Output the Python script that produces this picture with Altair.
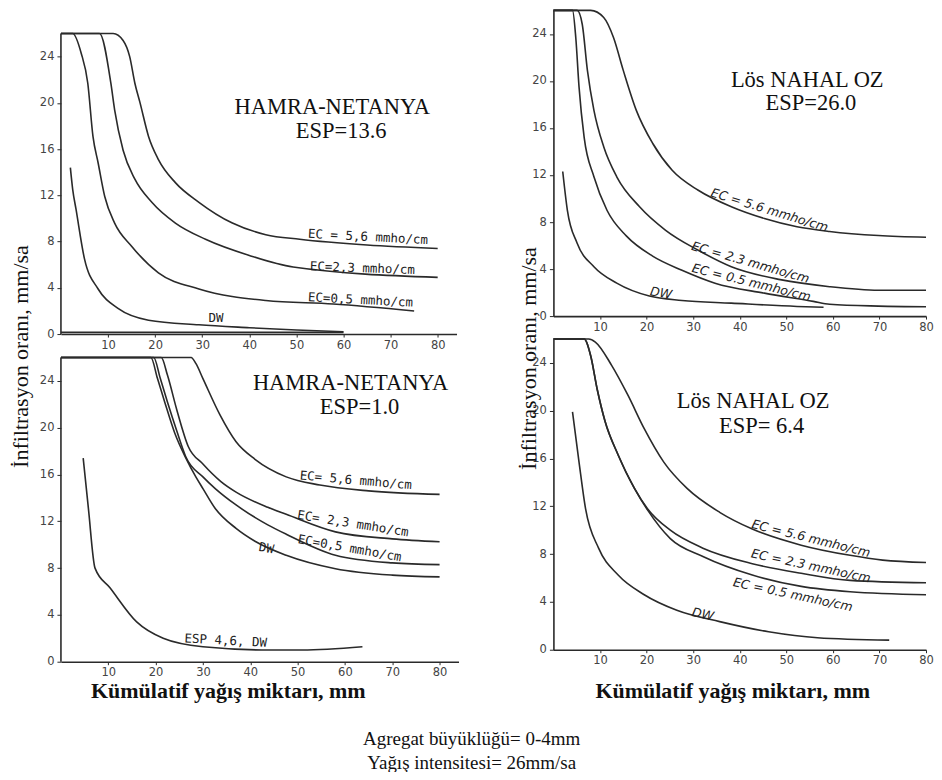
import altair as alt
import pandas as pd

# ---------------- Top-left: HAMRA-NETANYA ESP=13.6 ----------------
tl_ec56_x = [0, 11.1, 13.2, 14.6, 15.7, 16.8, 18.6, 20.7, 24.3, 29.3, 36.4, 43.5, 50.7, 65, 80]
tl_ec56_y = [26, 26, 25.4, 24.0, 21.7, 20.0, 17.1, 15.1, 13.1, 11.4, 9.6, 8.6, 8.2, 7.7, 7.4]
tl_ec23_x = [0, 8.2, 10.6, 11.4, 13.2, 15.7, 19.3, 24.3, 30.7, 40, 49.3, 80]
tl_ec23_y = [26, 26, 21.7, 19.4, 15.9, 13.4, 11.4, 9.6, 8.2, 6.8, 5.8, 4.9]
tl_ec05_x = [0, 2.5, 4.3, 5.7, 6.8, 7.9, 9.3, 11.4, 15, 20.7, 29.3, 43.5, 57.8, 75]
tl_ec05_y = [26, 26, 24.3, 21.7, 17.1, 14.8, 11.9, 9.6, 7.6, 5.3, 3.9, 2.9, 2.6, 2.0]
tl_dw_x = [2.0, 2.5, 3.2, 5.0, 7.9, 12.2, 18.6, 29.3, 40, 50, 60]
tl_dw_y = [14.4, 12.5, 10.8, 6.5, 3.9, 2.2, 1.2, 0.8, 0.55, 0.35, 0.2]
tl_base_x = [0, 60]
tl_base_y = [0.15, 0.15]

# ---------------- Bottom-left: HAMRA-NETANYA ESP=1.0 ----------------
bl_ec56_x = [0, 27.5, 28.5, 30, 33.6, 37, 41, 47.6, 54.7, 65, 80]
bl_ec56_y = [26, 26, 25.5, 24.2, 21.1, 18.8, 17.3, 15.8, 15.1, 14.6, 14.3]
bl_ec23_x = [0, 21.2, 22.5, 24.5, 26.9, 30, 33.8, 37, 43.7, 47.6, 58, 70, 80]
bl_ec23_y = [26, 26, 24.5, 21.5, 18.4, 16.9, 15.4, 14.5, 13.2, 12.6, 11.1, 10.5, 10.25]
bl_ec05_x = [0, 19.6, 21, 22.5, 24.5, 26.4, 30, 32.6, 37, 43.7, 47.6, 58, 70, 80]
bl_ec05_y = [26, 26, 24.2, 22.2, 19.7, 17.5, 15.8, 14.8, 13.4, 11.7, 10.9, 9.1, 8.45, 8.3]
bl_dw_x = [0, 19.0, 20.4, 22, 24, 26.4, 28.5, 30, 32.6, 37, 41, 47.6, 58, 70, 80]
bl_dw_y = [26, 26, 24.2, 22.1, 19.6, 17.4, 15.8, 14.8, 13.1, 11.4, 10.3, 9.1, 7.95, 7.4, 7.25]
bl_esp46_x = [4.7, 5.8, 7.2, 10.4, 16, 21.6, 30, 44.1, 51, 63.7]
bl_esp46_y = [17.4, 13.1, 8.0, 6.3, 3.4, 2.0, 1.28, 1.0, 1.0, 1.28]

# ---------------- Top-right: Lös NAHAL OZ ESP=26.0 ----------------
tr_ec56_x = [0, 8, 10.8, 12.9, 15, 17.8, 21.3, 25.5, 31.1, 38.2, 45.3, 52.3, 59.3, 69.8, 80]
tr_ec56_y = [26, 26, 25.4, 23.7, 20.9, 17.5, 14.7, 12.4, 10.7, 9.3, 8.3, 7.6, 7.2, 6.85, 6.7]
tr_ec23_x = [0, 5.1, 6.2, 7.3, 8.7, 10.8, 13.6, 18.5, 24.1, 31.1, 38.2, 48.7, 59.3, 69.8, 80]
tr_ec23_y = [26, 26, 24.8, 20.9, 17.5, 14.4, 11.85, 9.3, 7.3, 5.6, 4.2, 3.1, 2.5, 2.2, 2.2]
tr_ec05_x = [0, 4.1, 4.8, 5.5, 6.6, 8.7, 11.5, 15.7, 21.3, 27.6, 34.7, 45.3, 55.8, 59.3, 69.8, 80]
tr_ec05_y = [26, 26, 23.7, 19.5, 15.2, 11.85, 9.0, 6.8, 5.1, 3.9, 2.8, 1.95, 1.25, 1.0, 0.85, 0.8]
tr_dw_x = [2.0, 3.0, 5.1, 8.7, 13.6, 20.6, 27.6, 38.2, 52.3, 58]
tr_dw_y = [12.3, 9.0, 6.2, 4.2, 2.8, 1.7, 1.33, 1.1, 0.82, 0.75]

# ---------------- Bottom-right: Lös NAHAL OZ ESP=6.4 ----------------
br_ec56_x = [0, 7.6, 9.0, 12.5, 16.0, 19.5, 23.7, 28.7, 35.7, 42.7, 53.2, 63.7, 70.7, 80]
br_ec56_y = [26, 26, 25.75, 23.8, 21.3, 18.5, 15.7, 13.5, 11.5, 10.1, 8.75, 7.9, 7.5, 7.3]
br_ec23_x = [0, 6.6, 8, 9.4, 11.1, 13.9, 17.4, 20.2, 25.1, 32.1, 42.7, 53.2, 63.7, 80]
br_ec23_y = [26, 26, 24.6, 21.8, 19.1, 16.3, 13.5, 11.8, 10.0, 8.5, 7.2, 6.4, 5.8, 5.6]
br_ec05_x = [0, 6.6, 8, 9.4, 11.1, 13.9, 17.4, 20.2, 25.1, 32.1, 42.7, 53.2, 63.7, 80]
br_ec05_y = [26, 26, 24.6, 21.8, 19.1, 16.3, 13.5, 11.7, 9.3, 7.8, 6.25, 5.3, 4.85, 4.6]
br_dw_x = [4.1, 5.5, 6.9, 9.7, 13.9, 19.5, 26.5, 35.7, 46.2, 56.7, 72.1]
br_dw_y = [19.9, 15.7, 11.8, 8.5, 6.25, 4.6, 3.3, 2.35, 1.5, 1.0, 0.8]

# ---------------- Curve labels ----------------
tl_lab_text = ["EC = 5,6 mmho/cm", "EC=2,3 mmho/cm", "EC=0,5 mmho/cm", "DW"]
tl_lab_x = [65.2, 64.0, 63.6, 32.9]
tl_lab_y = [8.4, 5.7, 2.95, 1.35]
tl_lab_angle = [3, 2, 3, 0]

bl_lab_text = ["EC= 5,6 mmho/cm", "EC= 2,3 mmho/cm", "EC=0,5 mmho/cm", "DW", "ESP 4,6, DW"]
bl_lab_x = [62.3, 61.7, 61.0, 43.4, 34.8]
bl_lab_y = [15.5, 11.8, 9.7, 9.7, 1.8]
bl_lab_angle = [5, 9, 10, 10, 3]

tr_lab_text = ["EC = 5.6 mmho/cm", "EC = 2.3 mmho/cm", "EC = 0.5 mmho/cm", "DW"]
tr_lab_x = [46.4, 42.3, 42.5, 23.1]
tr_lab_y = [9.0, 4.55, 2.85, 1.95]
tr_lab_angle = [17, 16, 14, 10]

br_lab_text = ["EC = 5.6 mmho/cm", "EC = 2.3 mmho/cm", "EC = 0.5 mmho/cm", "DW"]
br_lab_x = [55.3, 55.3, 51.4, 32.1]
br_lab_y = [9.3, 7.0, 4.6, 2.95]
br_lab_angle = [14, 12, 12, 12]

# ---------------- Panel titles (inside plots) ----------------
tl_title_text = ["HAMRA-NETANYA", "ESP=13.6"]
tl_title_x = [57.6, 59.5]
tl_title_y = [19.6, 17.6]
bl_title_text = ["HAMRA-NETANYA", "ESP=1.0"]
bl_title_x = [61.2, 63.1]
bl_title_y = [23.8, 21.8]
tr_title_text = ["Lös NAHAL OZ", "ESP=26.0"]
tr_title_x = [54.5, 55.3]
tr_title_y = [20.1, 18.1]
br_title_text = ["Lös NAHAL OZ", "ESP= 6.4"]
br_title_x = [42.9, 44.7]
br_title_y = [20.8, 18.7]

y_ticks = [0, 2, 4, 6, 8, 10, 12, 14, 16, 18, 20, 22, 24]
x_ticks = [10, 20, 30, 40, 50, 60, 70, 80]

Y_TITLE = "İnfiltrasyon oranı, mm/sa"
X_TITLE = "Kümülatif yağış miktarı, mm"
CAPTION = ["Agregat büyüklüğü= 0-4mm", "Yağış intensitesi= 26mm/sa"]

LINE_COLOR = "#2a2a2a"
SERIF = "Liberation Serif, Times New Roman, serif"


def curves_df(series):
    rows = []
    for name, xs, ys in series:
        for i, (a, b) in enumerate(zip(xs, ys)):
            rows.append({"x": a, "y": b, "s": name, "i": i})
    return pd.DataFrame(rows)


def labels_df(texts, xs, ys, angles=None):
    d = {"t": texts, "x": xs, "y": ys}
    d["a"] = angles if angles is not None else [0] * len(texts)
    return pd.DataFrame(d)


def panel(series, labs, titles, xmax, ymax, width, height, lab_font, lab_style,
          lab_size, y_axis_title=None, ytitle_x=0, ytitle_y=0,
          x_axis_title=None, xtitle_x=0, xtitle_y=0, rule_axis=False):
    xscale = alt.Scale(domain=[0, xmax], nice=False, zero=False)
    yscale = alt.Scale(domain=[0, ymax], nice=False, zero=False)

    xaxis_kw = dict(values=x_ticks, grid=False, domainColor=LINE_COLOR, domainWidth=1.6,
                    tickColor=LINE_COLOR, tickSize=3, labelFont="DejaVu Sans",
                    labelFontSize=11.5, labelColor="#444", labelPadding=2,
                    labelFlush=False, labelOverlap=False)
    if x_axis_title:
        xaxis_kw.update(title=x_axis_title, titleFont=SERIF, titleFontSize=22,
                        titleFontWeight="bold", titleColor="#111", titleX=xtitle_x,
                        titleY=xtitle_y, titleAlign="center", titleBaseline="middle")
    else:
        xaxis_kw.update(title=None)

    yaxis_kw = dict(values=y_ticks, grid=False, domain=not rule_axis,
                    domainColor=LINE_COLOR, domainWidth=1.6, tickColor=LINE_COLOR,
                    tickSize=4, labelFont="DejaVu Sans", labelFontSize=11.5,
                    labelColor="#444", labelPadding=3, labelFlush=False,
                    labelOverlap=False,
                    labelExpr="datum.value % 4 === 0 ? datum.label : ''")
    if y_axis_title:
        yaxis_kw.update(title=y_axis_title, titleFont=SERIF, titleFontSize=22,
                        titleFontWeight="normal", titleColor="#111", titleAngle=270,
                        titleX=ytitle_x, titleY=ytitle_y, titleAlign="center",
                        titleBaseline="middle")
    else:
        yaxis_kw.update(title=None)

    cdf = curves_df(series)
    lines = alt.Chart(cdf).mark_line(color=LINE_COLOR, strokeWidth=1.6,
                                     interpolate="monotone").encode(
        x=alt.X("x:Q", scale=xscale, axis=alt.Axis(**xaxis_kw)),
        y=alt.Y("y:Q", scale=yscale, axis=alt.Axis(**yaxis_kw)),
        detail="s:N",
        order="i:Q",
    )
    layers = [lines]
    if rule_axis:
        rdf = pd.DataFrame({"x": [0], "y": [0], "y2": [26]})
        layers.append(alt.Chart(rdf).mark_rule(color=LINE_COLOR, strokeWidth=1.6).encode(
            x=alt.X("x:Q", scale=xscale), y=alt.Y("y:Q", scale=yscale), y2="y2:Q"))
    ldf = labels_df(*labs)
    layers.append(alt.Chart(ldf).mark_text(font=lab_font, fontSize=lab_size,
                                           fontStyle=lab_style, color="#222",
                                           align="center", baseline="middle").encode(
        x=alt.X("x:Q", scale=xscale), y=alt.Y("y:Q", scale=yscale), text="t:N",
        angle=alt.Angle("a:Q", scale=None)))
    tdf = labels_df(*titles)
    layers.append(alt.Chart(tdf).mark_text(font=SERIF, fontSize=22.5, color="#111",
                                           align="center", baseline="middle").encode(
        x=alt.X("x:Q", scale=xscale), y=alt.Y("y:Q", scale=yscale), text="t:N"))
    return alt.layer(*layers).properties(width=width, height=height)


tl = panel(
    [("ec56", tl_ec56_x, tl_ec56_y), ("ec23", tl_ec23_x, tl_ec23_y),
     ("ec05", tl_ec05_x, tl_ec05_y), ("dw", tl_dw_x, tl_dw_y), ("base", tl_base_x, tl_base_y)],
    (tl_lab_text, tl_lab_x, tl_lab_y, tl_lab_angle),
    (tl_title_text, tl_title_x, tl_title_y),
    84, 28, 396, 324, "DejaVu Sans Mono", "normal", 12.5, rule_axis=True)

bl = panel(
    [("ec56", bl_ec56_x, bl_ec56_y), ("ec23", bl_ec23_x, bl_ec23_y),
     ("ec05", bl_ec05_x, bl_ec05_y), ("dw", bl_dw_x, bl_dw_y), ("esp46", bl_esp46_x, bl_esp46_y)],
    (bl_lab_text, bl_lab_x, bl_lab_y, bl_lab_angle),
    (bl_title_text, bl_title_x, bl_title_y),
    84, 27.58, 398, 323, "DejaVu Sans Mono", "normal", 12.5,
    y_axis_title=Y_TITLE, ytitle_x=-40, ytitle_y=17,
    x_axis_title=X_TITLE, xtitle_x=167, xtitle_y=29, rule_axis=True)

tr = panel(
    [("ec56", tr_ec56_x, tr_ec56_y), ("ec23", tr_ec23_x, tr_ec23_y),
     ("ec05", tr_ec05_x, tr_ec05_y), ("dw", tr_dw_x, tr_dw_y)],
    (tr_lab_text, tr_lab_x, tr_lab_y, tr_lab_angle),
    (tr_title_text, tr_title_x, tr_title_y),
    80, 26, 373, 306, "DejaVu Sans", "italic", 12.5)

br = panel(
    [("ec56", br_ec56_x, br_ec56_y), ("ec23", br_ec23_x, br_ec23_y),
     ("ec05", br_ec05_x, br_ec05_y), ("dw", br_dw_x, br_dw_y)],
    (br_lab_text, br_lab_x, br_lab_y, br_lab_angle),
    (br_title_text, br_title_x, br_title_y),
    80, 26, 373, 311, "DejaVu Sans", "italic", 12.5,
    y_axis_title=Y_TITLE, ytitle_x=-25, ytitle_y=19,
    x_axis_title=X_TITLE, xtitle_x=179, xtitle_y=41)

chart = alt.concat(
    tl, tr, bl, br, columns=2, spacing={"row": 5, "column": 95}, bounds="flush"
).properties(
    padding={"left": 1, "top": -2, "right": 0, "bottom": -1},
    title=alt.TitleParams(text=CAPTION, orient="bottom", anchor="middle", font=SERIF,
                          fontSize=19, fontWeight="normal", color="#111",
                          lineHeight=24, offset=28),
).configure_view(stroke=None)

chart.save("out.html", embed_options={"renderer": "svg", "actions": False})
